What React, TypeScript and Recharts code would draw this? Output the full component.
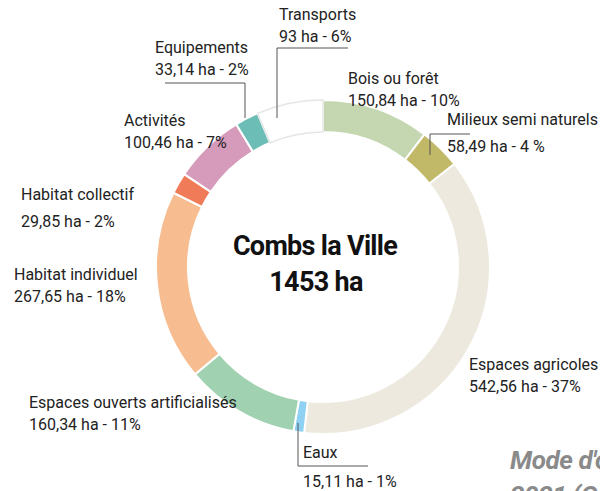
import { PieChart, Pie, Cell } from 'recharts'

const categories = [
  'Bois ou forêt',
  'Milieux semi naturels',
  'Espaces agricoles',
  'Eaux',
  'Espaces ouverts artificialisés',
  'Habitat individuel',
  'Habitat collectif',
  'Activités',
  'Equipements',
  'Transports',
]

const areas = [150.84, 58.49, 542.56, 15.11, 160.34, 267.65, 29.85, 100.46, 33.14, 93]

const valueLabels = [
  '150,84 ha - 10%',
  '58,49 ha - 4 %',
  '542,56 ha - 37%',
  '15,11 ha - 1%',
  '160,34 ha - 11%',
  '267,65 ha - 18%',
  '29,85 ha - 2%',
  '100,46 ha - 7%',
  '33,14 ha - 2%',
  '93 ha - 6%',
]

const colors = [
  '#c4d7b0', '#c2b968', '#ede9de', '#8fd1f2', '#a0d2b1',
  '#f7bd91', '#ef7b58', '#d69bbb', '#6cbdb6', '#ffffff',
]

const chartData = categories.map((name, i) => ({ name, value: areas[i], text: valueLabels[i] }))

// label placement: name baseline, value baseline, optional leader line
const labelLayout: Record<string, { x: number; y1: number; y2: number; line?: string }> = {
  'Bois ou forêt': { x: 348, y1: 84, y2: 106 },
  'Milieux semi naturels': { x: 447, y1: 125, y2: 152, line: 'M470,134 L430,134 L430,155' },
  'Espaces agricoles': { x: 469, y1: 370, y2: 392 },
  'Eaux': { x: 303, y1: 458, y2: 487, line: 'M298,423 L298,466 L368,466' },
  'Espaces ouverts artificialisés': { x: 29, y1: 408, y2: 430 },
  'Habitat individuel': { x: 14, y1: 280, y2: 302 },
  'Habitat collectif': { x: 21, y1: 200, y2: 227 },
  'Activités': { x: 124, y1: 126, y2: 148 },
  'Equipements': { x: 155, y1: 53, y2: 75, line: 'M165,83 L245,83 L245,118' },
  'Transports': { x: 279, y1: 20, y2: 42, line: 'M348,48 L277,48 L277,118' },
}

const textStyle = { fontFamily: 'Roboto', fontSize: 16, fill: '#222' }

function renderLabel(props: any) {
  const l = labelLayout[props.name]
  if (!l) return null
  return (
    <g>
      {l.line && <path d={l.line} stroke="#555" strokeWidth={1} fill="none" />}
      <text x={l.x} y={l.y1} style={textStyle}>{props.name}</text>
      <text x={l.x} y={l.y2} style={textStyle}>{props.payload.text}</text>
    </g>
  )
}

const titleStyle = { fontFamily: 'Roboto', fontWeight: 700, fontSize: 27, fill: '#111', letterSpacing: -0.7 }
const captionStyle = { fontFamily: 'Roboto', fontWeight: 700, fontStyle: 'italic', fontSize: 26, fill: '#8a8a8a', letterSpacing: -0.4 }

export default function App() {
  return (
    <div style={{ position: 'absolute', left: 0, top: 0, width: 600, height: 491, background: '#fff', overflow: 'hidden' }}>
      <PieChart width={600} height={491}>
        <Pie
          data={chartData}
          dataKey="value"
          nameKey="name"
          cx={318}
          cy={262}
          innerRadius={135}
          outerRadius={167}
          startAngle={90}
          endAngle={-270}
          stroke="#fff"
          strokeWidth={2}
          label={renderLabel}
          labelLine={false}
          isAnimationActive={false}
        >
          {chartData.map((entry, index) => (
            <Cell
              key={`cell-${index}`}
              fill={colors[index]}
              stroke={entry.name === 'Transports' ? '#e6e6e6' : '#fff'}
              strokeWidth={entry.name === 'Transports' ? 1.5 : 2}
            />
          ))}
        </Pie>
        <text x={315} y={255} textAnchor="middle" style={titleStyle}>
          Combs la Ville
        </text>
        <text x={316} y={291} textAnchor="middle" style={titleStyle}>
          1453 ha
        </text>
        <text x={510} y={469} style={captionStyle}>
          Mode d'occupation du sol
        </text>
        <text x={510} y={504} style={captionStyle}>
          2021 (Combs la Ville)
        </text>
      </PieChart>
    </div>
  )
}
